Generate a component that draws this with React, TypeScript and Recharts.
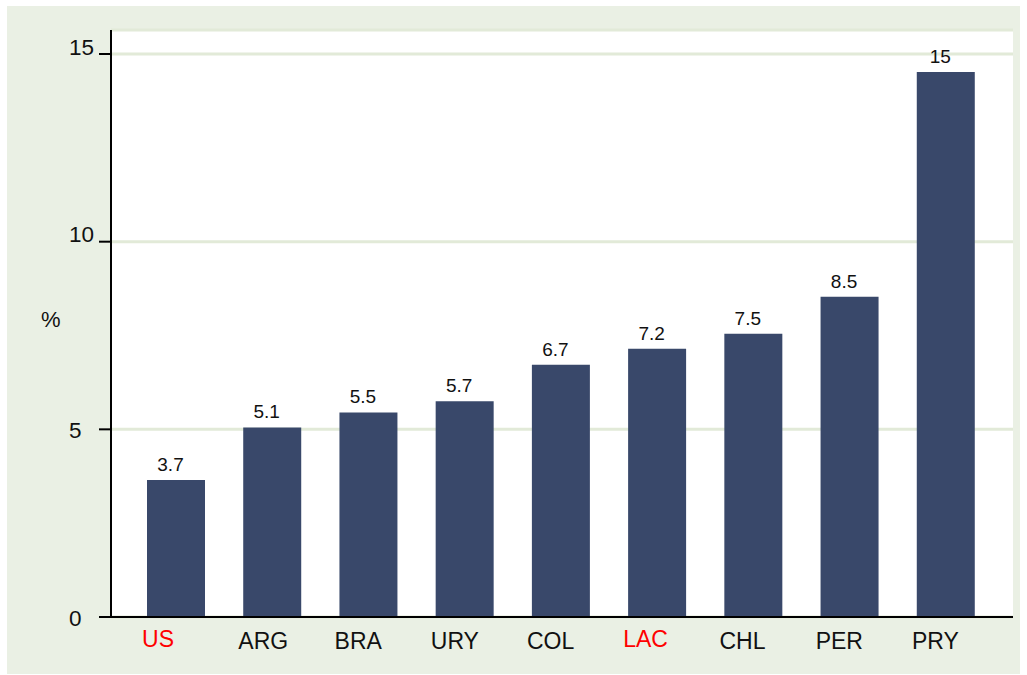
import React from 'react';
import { BarChart, Bar, XAxis, YAxis, CartesianGrid, LabelList, Label } from 'recharts';

const categories = ['US', 'ARG', 'BRA', 'URY', 'COL', 'LAC', 'CHL', 'PER', 'PRY'];
const values = [3.65, 5.05, 5.45, 5.75, 6.72, 7.15, 7.55, 8.53, 14.52];
const valueLabels = ['3.7', '5.1', '5.5', '5.7', '6.7', '7.2', '7.5', '8.5', '15'];
const highlighted = ['US', 'LAC'];
const yTicks = [0, 5, 10, 15];

const data = categories.map((c, i) => ({ name: c, value: values[i], label: valueLabels[i] }));

const FONT = '"Liberation Sans", Arial, sans-serif';
const BAR = '#39486a';
const BG = '#eaf0e4';
const GRID = '#e2ead8';

const XTick = (props: any) => {
  const { x, y, payload } = props;
  const red = highlighted.includes(payload.value);
  return (
    <text x={x - 34} y={y + (red ? 30 : 32)} textAnchor="start" fontSize={23} fontFamily={FONT} fill={red ? '#ff0000' : '#111111'}>
      {payload.value}
    </text>
  );
};

const YTick = (props: any) => {
  const { x, y, payload } = props;
  const v = payload.value;
  const dy = v >= 10 ? 0.5 : 8.5;
  return (
    <text x={x - 30} y={y + dy} textAnchor="start" fontSize={22.5} fontFamily={FONT} fill="#111111">
      {v}
    </text>
  );
};

const ValueLabel = (props: any) => {
  const { x, y, width, index } = props;
  return (
    <text x={x + width / 2 - 5.5} y={y - 9} textAnchor="middle" fontSize={19} fontFamily={FONT} fill="#111111">
      {valueLabels[index]}
    </text>
  );
};

const PercentLabel = (props: any) => {
  const vb = props.viewBox || {};
  return (
    <text x={vb.x + 4} y={vb.y + vb.height / 2 + 3} textAnchor="start" fontSize={22} fontFamily={FONT} fill="#111111">
      %
    </text>
  );
};

export default function App() {
  return (
    <div style={{ position: 'absolute', left: 0, top: 0, width: 1027, height: 675, background: '#ffffff' }}>
      <div style={{ position: 'absolute', left: 7, top: 6, width: 1013, height: 668, background: BG }}>
        <BarChart
          width={1013}
          height={668}
          data={data}
          margin={{ top: 24, right: 7, bottom: 17, left: 30 }}
        >
          <CartesianGrid vertical={false} stroke={GRID} strokeWidth={3} fill="#ffffff" />
          <XAxis
            dataKey="name"
            type="category"
            height={40}
            padding={{ left: 17, right: 19 }}
            tickLine={false}
            tickSize={0}
            tickMargin={0}
            axisLine={{ stroke: '#000000', strokeWidth: 2 }}
            tick={<XTick />}
            interval={0}
          />
          <YAxis
            width={74}
            domain={[0, 15.64]}
            ticks={yTicks}
            allowDataOverflow
            tickSize={12}
            tickMargin={0}
            tickLine={{ stroke: '#000000', strokeWidth: 2 }}
            axisLine={{ stroke: '#000000', strokeWidth: 2 }}
            tick={<YTick />}
          >
            <Label content={<PercentLabel />} position="insideLeft" />
          </YAxis>
          <Bar dataKey="value" fill={BAR} barSize={58} isAnimationActive={false}>
            <LabelList dataKey="label" content={<ValueLabel />} />
          </Bar>
        </BarChart>
      </div>
    </div>
  );
}
